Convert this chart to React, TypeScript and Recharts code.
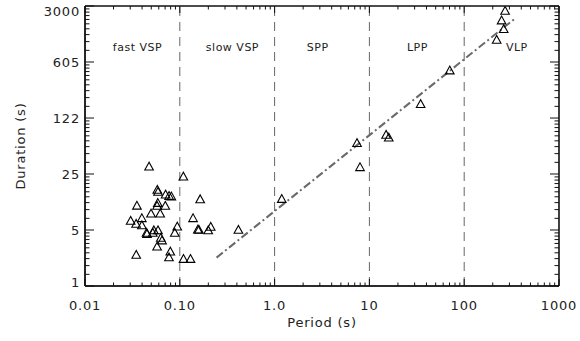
import React from "react";
import { ScatterChart, Scatter, XAxis, YAxis, ReferenceLine } from "recharts";

// periods (s) and durations (s)
const periods = [
  0.0474, 0.109, 0.0579, 0.0589, 0.0708, 0.0771, 0.0815, 0.164, 0.0353, 0.0586,
  0.0576, 0.0703, 0.0497, 0.0621, 0.0398, 0.0303, 0.0346, 0.0398, 0.138, 0.094,
  0.0446, 0.0451, 0.0532, 0.0589, 0.0519, 0.063, 0.065, 0.0885, 0.159, 0.155,
  0.1995, 0.212, 0.0576, 0.0347, 0.0794, 0.0769, 0.1094, 0.1297, 0.415, 1.19,
  7.4, 7.96, 15.0, 16.0, 34.7, 70.5, 220, 261, 248, 270,
];
const durations = [
  30.3, 22.8, 15.6, 14.7, 13.6, 13.1, 12.9, 11.9, 9.9, 10.7,
  9.86, 9.86, 7.9, 7.9, 6.93, 6.42, 5.89, 5.64, 6.93, 5.45,
  4.55, 4.42, 4.89, 4.89, 4.55, 3.95, 3.67, 4.55, 4.96, 5.0,
  4.89, 5.41, 3.08, 2.43, 2.67, 2.26, 2.16, 2.16, 4.96, 12.0,
  59.3, 29.8, 75.1, 69.5, 181, 473, 1137, 1545, 1976, 2608,
];

// fitted power law, end points
const fitPeriods = [0.244, 340];
const fitDurations = [2.25, 2074];

// class boundaries and labels
const boundaries = [0.1, 1, 10, 100];
const regionNames = ["fast VSP", "slow VSP", "SPP", "LPP", "VLP"];
const regionPeriods = [0.0358, 0.359, 2.85, 32.1, 359];
const regionDuration = 923;

const xMajor = [0.01, 0.1, 1, 10, 100, 1000];
const xLabels = ["0.01", "0.10", "1.0", "10", "100", "1000"];
const yMajor = [1, 4.96, 24.6, 121.9, 604.9, 3000];
const yLabels = ["1", "5", "25", "122", "605", "3000"];

const xMinor: number[] = [];
for (let d = 0; d < xMajor.length - 1; d++) {
  for (let m = 2; m <= 9; m++) xMinor.push(xMajor[d] * m);
}
const yMinor: number[] = [];
for (let d = 0; d < yMajor.length - 1; d++) {
  const a = yMajor[d];
  const b = yMajor[d + 1];
  for (let i = 1; i <= 9; i++) yMinor.push(a + ((b - a) * i) / 10);
}
const xTicks = [...xMajor, ...xMinor].sort((a, b) => a - b);
const yTicks = [...yMajor, ...yMinor].sort((a, b) => a - b);

const points = periods.map((p, i) => ({ period: p, duration: durations[i] }));
const regions = regionNames.map((name, i) => ({ period: regionPeriods[i], duration: regionDuration, name }));

const FONT = "'DejaVu Sans', sans-serif";
const W = 580;
const H = 341;
const MARGIN = { top: 6, right: 21, bottom: 0, left: 0 };
const X_AXIS_H = 55;
const Y_AXIS_W = 85;
const PLOT_W = W - MARGIN.left - MARGIN.right - Y_AXIS_W;
const PLOT_H = H - MARGIN.top - MARGIN.bottom - X_AXIS_H;
const GAP = 8; // default tickSize + tickMargin
const FRAME = { stroke: "#111", strokeWidth: 1.6 };

// inward ticks on bottom and (mirrored) top edge; first tick also draws the horizontal frame
function XTick(props: any) {
  const { x, y, payload, index } = props;
  const i = xMajor.indexOf(payload.value);
  const len = i >= 0 ? 7 : 3.5;
  const y0 = Number(y) - GAP;
  const yTop = y0 - PLOT_H;
  return (
    <g>
      {index === 0 && (
        <>
          <line x1={x} x2={x + PLOT_W} y1={y0} y2={y0} {...FRAME} />
          <line x1={x} x2={x + PLOT_W} y1={yTop} y2={yTop} {...FRAME} />
        </>
      )}
      <line x1={x} x2={x} y1={y0} y2={y0 - len} stroke="#111" strokeWidth={1} />
      <line x1={x} x2={x} y1={yTop} y2={yTop + len} stroke="#111" strokeWidth={1} />
      {i >= 0 && (
        <text x={x} y={y0 + 24} textAnchor="middle" fontSize={13} fill="#222" fontFamily={FONT} letterSpacing={0.8}>
          {xLabels[i]}
        </text>
      )}
    </g>
  );
}

// inward ticks on left and (mirrored) right edge; first tick also draws the vertical frame
function YTick(props: any) {
  const { x, y, payload, index } = props;
  const i = yMajor.indexOf(payload.value);
  const len = i >= 0 ? 9 : 4.5;
  const x0 = Number(x) + GAP;
  const xRight = x0 + PLOT_W;
  const shift = i === 0 ? -4 : i === yMajor.length - 1 ? 5 : 0;
  return (
    <g>
      {index === 0 && (
        <>
          <line x1={x0} x2={x0} y1={y} y2={y - PLOT_H} {...FRAME} />
          <line x1={xRight} x2={xRight} y1={y} y2={y - PLOT_H} {...FRAME} />
        </>
      )}
      <line x1={x0} x2={x0 + len} y1={y} y2={y} stroke="#111" strokeWidth={1} />
      <line x1={xRight} x2={xRight - len} y1={y} y2={y} stroke="#111" strokeWidth={1} />
      {i >= 0 && (
        <text x={x0 - 5} y={Number(y) + 5 + shift} textAnchor="end" fontSize={13} fill="#222" fontFamily={FONT} letterSpacing={0.8}>
          {yLabels[i]}
        </text>
      )}
    </g>
  );
}

function Triangle(props: any) {
  const { cx, cy } = props;
  if (cx == null || cy == null) return null;
  const pts = `${cx},${cy - 4.5} ${cx - 4.3},${cy + 3.3} ${cx + 4.3},${cy + 3.3}`;
  return <polygon points={pts} fill="none" stroke="#000" strokeWidth={1.1} />;
}

function RegionLabel(props: any) {
  const { cx, cy, payload } = props;
  return (
    <text x={cx} y={cy + 4} textAnchor="middle" fontSize={11} fill="#222" fontFamily={FONT} letterSpacing={0.5}>
      {payload.name}
    </text>
  );
}

export default function App() {
  return (
    <div style={{ position: "absolute", left: 0, top: 0, width: W, height: H, background: "#fff" }}>
      <ScatterChart width={W} height={H} margin={MARGIN}>
        <XAxis
          dataKey="period"
          type="number"
          scale="log"
          domain={[0.01, 1000]}
          allowDataOverflow
          ticks={xTicks}
          interval={0}
          stroke="#000"
          tickLine={{ stroke: "none" }}
          tick={<XTick />}
          height={X_AXIS_H}
          label={{ value: "Period (s)", position: "insideBottom", offset: 14, fontSize: 13, fill: "#222", fontFamily: FONT, letterSpacing: 0.8 }}
        />
        <YAxis
          dataKey="duration"
          type="number"
          scale="log"
          domain={[1, 3000]}
          allowDataOverflow
          ticks={yTicks}
          interval={0}
          stroke="#000"
          tickLine={{ stroke: "none" }}
          tick={<YTick />}
          width={Y_AXIS_W}
          label={{ value: "Duration (s)", angle: -90, position: "insideLeft", offset: 20, fontSize: 13, fill: "#222", fontFamily: FONT, letterSpacing: 0.8, style: { textAnchor: "middle" } }}
        />
        {boundaries.map((b) => (
          <ReferenceLine key={b} x={b} stroke="#666" strokeDasharray="9 6" />
        ))}
        <ReferenceLine
          segment={[
            { x: fitPeriods[0], y: fitDurations[0] },
            { x: fitPeriods[1], y: fitDurations[1] },
          ]}
          stroke="#6a6a6a"
          strokeWidth={2}
          strokeDasharray="8 3 2 3"
        />
        <Scatter data={regions} shape={<RegionLabel />} isAnimationActive={false} />
        <Scatter data={points} shape={<Triangle />} isAnimationActive={false} />
      </ScatterChart>
    </div>
  );
}
